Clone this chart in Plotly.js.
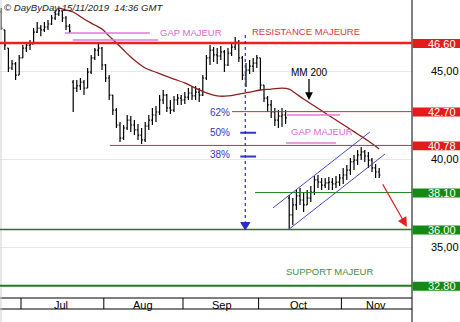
<!DOCTYPE html>
<html><head><meta charset="utf-8">
<script src="https://cdn.plot.ly/plotly-3.0.1.min.js"></script>
<style>html,body{margin:0;padding:0;background:#fff}#chart{width:460px;height:322px}</style>
</head><body><div id="chart"></div>
<script>
// trading-day index (0 = 1 Jul 2019, 99 = 15 Nov 2019)
const dayIdx = [-6,-5,-4,-3,-2,-1,0,1,2,3,4,5,6,7,8,9,10,11,12,13,14,15,16,17,18,19,20,21,22,23,24,25,26,27,28,29,30,31,32,33,34,35,36,37,38,39,40,41,42,43,44,45,46,47,48,49,50,51,52,53,54,55,56,57,58,59,60,61,62,63,64,65,66,67,68,69,70,71,72,73,74,75,76,77,78,79,80,81,82,83,84,85,86,87,88,89,90,91,92,93,94,95,96,97,98,99];
const openP = [48.36,47.34,46.31,45.18,45.41,44.78,45.75,46.31,46.48,46.54,47.22,47.45,47.34,47.51,47.68,48.02,48.24,48.42,48.02,47.56,44.38,44.04,44.16,44.38,44.04,44.95,45.75,46.20,46.31,45.35,44.61,43.64,42.79,41.94,41.20,41.77,42.22,41.94,41.66,41.37,41.09,41.88,42.22,42.51,42.68,43.36,43.64,42.91,42.79,43.36,43.47,43.36,43.53,43.76,43.59,43.81,43.64,44.61,45.75,46.20,45.92,45.86,46.09,45.35,46.03,46.37,46.65,45.75,44.78,45.06,45.29,45.46,45.75,44.21,43.47,43.08,42.68,42.22,42.45,42.51,37.79,36.83,37.40,37.91,37.68,37.40,37.79,38.13,38.82,38.70,38.53,38.65,38.70,38.59,38.70,38.93,39.10,39.38,39.84,39.95,40.24,40.41,40.18,39.95,39.50,39.27];
const highP = [48.59,47.34,46.31,45.63,45.52,45.92,46.48,46.65,46.77,47.45,47.79,47.62,47.79,47.90,48.19,48.47,48.59,48.42,48.13,47.68,44.50,44.50,44.61,44.50,45.18,45.92,46.31,46.60,46.37,45.41,44.78,43.64,42.91,42.11,41.94,42.51,42.45,42.22,42.00,41.77,42.11,42.51,42.91,43.02,43.64,43.93,43.70,43.36,43.59,43.70,43.64,43.81,44.04,44.10,44.16,44.04,44.78,45.92,46.48,46.37,46.31,46.43,46.20,46.31,46.65,46.94,46.77,45.86,45.46,45.63,45.75,45.92,45.75,44.21,43.59,43.36,42.91,42.79,42.91,42.79,37.96,37.79,38.25,38.36,38.13,38.25,38.48,39.04,39.10,38.93,38.93,38.99,38.93,39.04,39.16,39.50,39.67,40.07,40.24,40.52,40.69,40.52,40.41,40.07,39.72,39.50];
const lowP = [47.34,46.20,44.95,45.06,44.50,44.78,45.75,46.09,46.20,46.54,47.17,46.99,47.22,47.34,47.62,47.90,48.13,47.79,47.34,47.17,42.68,43.81,43.93,43.64,44.04,44.84,45.63,45.86,45.06,44.38,43.36,42.51,41.77,40.97,41.09,41.66,41.54,41.37,41.09,40.86,40.97,41.66,41.94,42.11,42.51,43.13,42.68,42.56,42.68,43.08,43.08,43.13,43.36,43.36,43.36,43.25,43.59,44.50,45.35,45.52,45.41,45.63,44.95,45.29,45.86,46.20,45.52,44.50,44.10,44.84,44.95,45.18,43.93,43.25,42.68,42.34,41.88,41.77,41.83,42.00,36.00,36.26,37.11,37.40,37.00,37.40,37.57,37.96,38.36,38.25,38.36,38.25,38.25,38.36,38.48,38.59,38.82,39.10,39.38,39.67,39.95,39.84,39.50,39.27,38.93,38.93];
const closeP = [47.45,46.48,45.18,45.41,44.78,45.75,46.31,46.48,46.54,47.22,47.45,47.34,47.51,47.68,48.02,48.24,48.42,48.02,47.56,47.28,44.04,44.16,44.38,44.04,44.95,45.75,46.20,46.31,45.35,44.61,43.64,42.79,41.94,41.20,41.77,42.22,41.94,41.66,41.37,41.09,41.88,42.22,42.51,42.68,43.36,43.64,42.91,42.79,43.36,43.47,43.36,43.53,43.76,43.59,43.81,43.64,44.61,45.75,46.20,45.92,45.86,46.09,45.35,46.03,46.37,46.65,45.75,44.78,45.06,45.29,45.46,45.75,44.21,43.47,43.08,42.68,42.22,42.45,42.51,42.34,36.83,37.40,37.91,37.68,37.40,37.79,38.13,38.82,38.70,38.53,38.65,38.70,38.59,38.70,38.93,39.10,39.38,39.84,39.95,40.24,40.41,40.18,39.95,39.50,39.27,39.10];

// 200-day moving average
const maDays = [10,12,14,17,20,22,24,26,28,30,32,34,36,39,42,45,48,51,54,57,60,63,66,69,72,74,76,78,81,84,87,90,93,96,99];
const maVals = [48.59,48.47,48.36,47.96,47.62,47.39,46.99,46.60,46.20,45.80,45.46,45.18,45.01,44.78,44.55,44.33,44.04,43.76,43.59,43.59,43.70,43.81,43.93,43.98,44.04,43.98,43.70,43.42,43.02,42.62,42.22,41.83,41.43,41.03,40.58];

const monthNames = ['Jul','Aug','Sep','Oct','Nov'];
const monthBounds = [-0.5,22.5,44.5,65.5,88.5];
const monthCenters = [10.5,33.4,55.2,76.6,98.2];

const levelVals = [46.60,42.70,40.78,38.10,36.00,32.80];
const levelText = ['46.60','42.70','40.78','38.10','36.00','32.80'];
const levelKind = ['res','res','res','sup','sup','sup'];
const levelFrom = [null,58.1,24.2,64.5,null,null];

const gridVals = [35,40,45];
const gridText = ['35,00','40,00','45,00'];

const fibText = ['62%','50%','38%'];
const fibVals = [42.64,41.50,40.27];

const X0 = -6.333, X1 = 108.111, Y0 = 32.111, Y1 = 49.043;
const PH = 298; // plot height px
const FONT = 'Liberation Sans, Arial, sans-serif';

const traces = [
  {type:'ohlc', x:dayIdx, open:openP, high:highP, low:lowP, close:closeP,
   increasing:{line:{color:'#000',width:1.2}}, decreasing:{line:{color:'#000',width:1.2}},
   tickwidth:0.35, hoverinfo:'skip'},
  {type:'scatter', mode:'lines', x:maDays, y:maVals, line:{color:'#8e1f1f',width:1.3,shape:'spline'}, hoverinfo:'skip'}
];

const shapes = [];
const annotations = [];
// x-axis band
shapes.push({type:'line', xref:'paper', yref:'paper', x0:0, x1:1, y0:0, y1:0, line:{color:'#000',width:1}});
shapes.push({type:'line', xref:'paper', yref:'paper', x0:0, x1:1, y0:-11/PH, y1:-11/PH, line:{color:'#000',width:1}});
monthBounds.forEach(b => shapes.push({type:'line', xref:'x', yref:'paper', x0:b, x1:b, y0:-11/PH, y1:0, line:{color:'#000',width:1}}));
monthNames.forEach((m,i) => annotations.push({xref:'x', yref:'paper', x:monthCenters[i], y:-6.5/PH, text:m, showarrow:false, xanchor:'center', yanchor:'middle', font:{family:FONT,size:11,color:'#000'}}));
// right axis line & left faint line
shapes.push({type:'line', xref:'paper', yref:'paper', x0:1, x1:1, y0:-24/PH, y1:1, line:{color:'#000',width:1}});
shapes.push({type:'line', xref:'paper', yref:'paper', x0:1/412, x1:1/412, y0:-24/PH, y1:1, line:{color:'#d0d0d0',width:1}});

// level lines and boxed labels
levelVals.forEach((v,i) => {
  const isRes = levelKind[i]==='res';
  const full = levelFrom[i]===null;
  let w = 1;
  if (i===0) w = 2.5; else if (i===4) w = 1.5; else if (i===5) w = 2;
  shapes.push({type:'line', xref:'x', yref:'y', x0: full ? X0 : levelFrom[i], x1:X1, y0:v, y1:v,
    line:{color: isRes ? '#ec2020' : '#1d7d1d', width:w}});
  shapes.push({type:'rect', xref:'paper', yref:'y', x0:1.0015, x1:460/412, y0:v+0.23, y1:v-0.28,
    fillcolor: isRes ? '#e41b1b' : '#148a14', line:{width:0}});
  annotations.push({xref:'paper', yref:'y', x:458/412, y:v-0.03, text:levelText[i], showarrow:false,
    xanchor:'right', yanchor:'middle', font:{family:FONT,size:11,color:'#fff'}});
});

// gap lines (pink)
const pink = '#e27ad9';
shapes.push({type:'line', xref:'x', yref:'y', x0:11.7, x1:35.3, y0:47.17, y1:47.17, line:{color:pink,width:1.5}});
shapes.push({type:'line', xref:'x', yref:'y', x0:13.9, x1:37.6, y0:46.77, y1:46.77, line:{color:pink,width:1.5}});
shapes.push({type:'line', xref:'x', yref:'y', x0:73.4, x1:88.1, y0:42.51, y1:42.51, line:{color:pink,width:1.5}});
shapes.push({type:'line', xref:'x', yref:'y', x0:73.1, x1:87.0, y0:40.92, y1:40.92, line:{color:pink,width:1.5}});

// channel lines (blue)
shapes.push({type:'line', xref:'x', yref:'y', x0:69.5, x1:96.4, y0:37.23, y1:41.54, line:{color:'#4848c8',width:1}});
shapes.push({type:'line', xref:'x', yref:'y', x0:73.7, x1:100.6, y0:35.98, y1:40.29, line:{color:'#4848c8',width:1}});

// fib ticks
shapes.push({type:'line', xref:'x', yref:'y', x0:60.4, x1:64.8, y0:41.50, y1:41.50, line:{color:'#3535c0',width:2}});
shapes.push({type:'line', xref:'x', yref:'y', x0:60.4, x1:64.8, y0:40.15, y1:40.15, line:{color:'#3535c0',width:2}});
fibText.forEach((t,i) => annotations.push({xref:'x', yref:'y', x:54.8, y:fibVals[i], text:t, showarrow:false, xanchor:'center', yanchor:'middle', font:{family:FONT,size:10,color:'#3535c0'}}));

// blue dotted projection arrow
shapes.push({type:'line', xref:'x', yref:'y', x0:61.8, x1:61.8, y0:47.05, y1:36.45, line:{color:'#2a2ad0',width:1.2,dash:'dot'}});
shapes.push({type:'path', xref:'x', yref:'y', path:'M 60.55,36.40 L 63.05,36.40 L 61.8,35.99 Z', fillcolor:'#2a2ad0', line:{color:'#2a2ad0',width:1}});

// texts
annotations.push({xref:'paper', yref:'paper', x:2/412, y:(PH-7)/PH, text:'\u00a9 DayByDay 15/11/2019 \u00a014:36 GMT', showarrow:false, xanchor:'left', yanchor:'middle', font:{family:FONT,size:9.6,color:'#222',style:'italic'}});
annotations.push({xref:'x', yref:'y', x:46.7, y:47.17, text:'GAP MAJEUR', showarrow:false, font:{family:FONT,size:9.5,color:'#e066d6'}});
annotations.push({xref:'x', yref:'y', x:83.1, y:41.60, text:'GAP MAJEUR', showarrow:false, font:{family:FONT,size:9.5,color:'#e066d6'}});
annotations.push({xref:'x', yref:'y', x:78.7, y:47.28, text:'RESISTANCE MAJEURE', showarrow:false, font:{family:FONT,size:9.5,color:'#d83838'}});
annotations.push({xref:'x', yref:'y', x:85.1, y:33.59, text:'SUPPORT MAJEUR', showarrow:false, font:{family:FONT,size:9.5,color:'#3f8f3f'}});
annotations.push({xref:'x', yref:'y', x:79.5, y:43.36, text:'MM 200', showarrow:true, ax:0, ay:-28, arrowhead:2, arrowsize:1.2, arrowwidth:1.3, arrowcolor:'#000', standoff:0, font:{family:FONT,size:10,color:'#000'}});
// red down arrow
annotations.push({xref:'x', yref:'y', x:106.7, y:36.15, text:'', showarrow:true, ax:-25, ay:-44, arrowhead:2, arrowsize:1.6, arrowwidth:1.2, arrowcolor:'#e02020', standoff:0});

const layout = {
  width:460, height:322, margin:{l:0,r:48,t:0,b:24,pad:0},
  paper_bgcolor:'#fff', plot_bgcolor:'#fff', showlegend:false, hovermode:false,
  xaxis:{range:[X0,X1], showgrid:false, zeroline:false, showticklabels:false, ticks:'', showline:false, rangeslider:{visible:false}, fixedrange:true},
  yaxis:{range:[Y0,Y1], side:'right', tickvals:gridVals, ticktext:gridText, showgrid:true, gridcolor:'#e3ebe3', gridwidth:1,
    zeroline:false, ticks:'', ticklabelstandoff:18, showline:false, fixedrange:true,
    tickfont:{family:FONT,size:11,color:'#000'}},
  shapes:shapes, annotations:annotations
};
Plotly.newPlot('chart', traces, layout, {staticPlot:true, displayModeBar:false});
</script></body></html>
